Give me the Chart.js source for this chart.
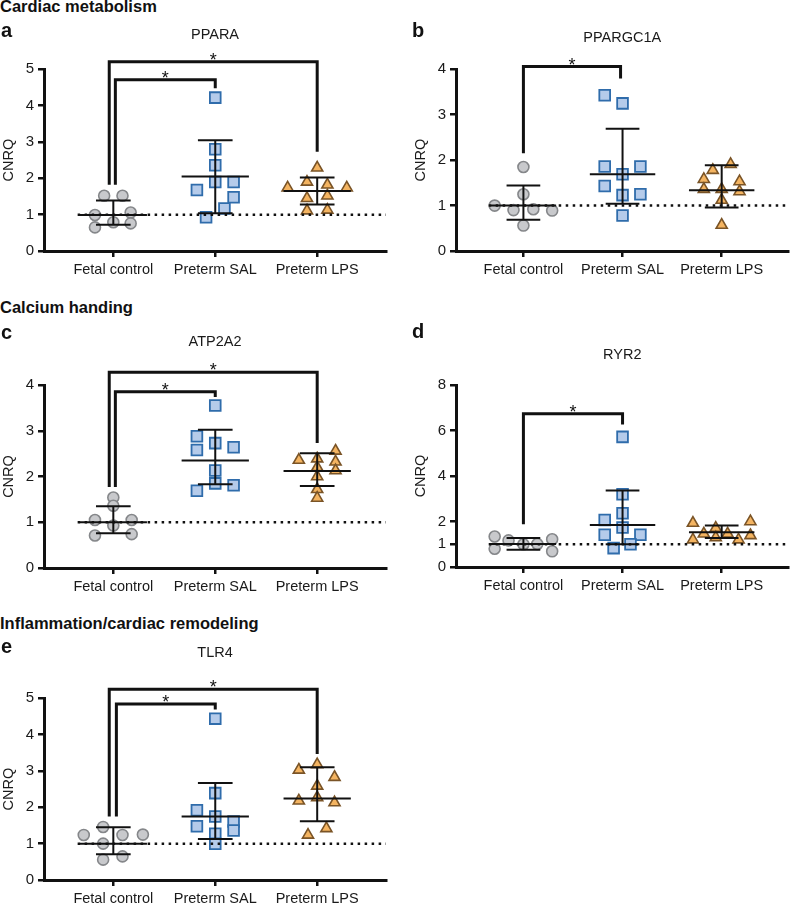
<!DOCTYPE html>
<html>
<head>
<meta charset="utf-8">
<script src="https://cdn.jsdelivr.net/npm/chart.js@4"></script>
<style>
  body { margin: 0; background: #fff; width: 798px; height: 904px; position: relative; overflow: hidden; }
  .panel { position: absolute; }
  .txt { position: absolute; font-family: 'Liberation Sans', Arial, sans-serif; font-weight: bold; line-height: 1; color: #111; white-space: nowrap; z-index: 2; }
  .head { font-size: 16.5px; }
  .lab { font-size: 20px; }
</style>
</head>
<body>
<div class="txt head" style="left:0;top:-2px">Cardiac metabolism</div>
<div class="txt lab" style="left:1px;top:20px">a</div>
<div class="txt lab" style="left:412px;top:20px">b</div>
<div class="txt head" style="left:0;top:299px">Calcium handing</div>
<div class="txt lab" style="left:1px;top:322px">c</div>
<div class="txt lab" style="left:412px;top:321px">d</div>
<div class="txt head" style="left:0;top:615px">Inflammation/cardiac remodeling</div>
<div class="txt lab" style="left:1px;top:636px">e</div>

<div class="panel" style="left:0;top:20px;width:400px;height:270px"><canvas id="pa"></canvas></div>
<div class="panel" style="left:412px;top:23px;width:386px;height:267px"><canvas id="pb"></canvas></div>
<div class="panel" style="left:0;top:327px;width:400px;height:273px"><canvas id="pc"></canvas></div>
<div class="panel" style="left:412px;top:340px;width:386px;height:260px"><canvas id="pd"></canvas></div>
<div class="panel" style="left:0;top:638px;width:400px;height:266px"><canvas id="pe"></canvas></div>

<script>
const groups = ['Fetal control', 'Preterm SAL', 'Preterm LPS'];

// each point: [offset from group centre, CNRQ]
const pparaFetal = [[-0.09, 1.52], [0.09, 1.52], [-0.18, 0.99], [0.17, 1.06], [0, 0.79], [0.17, 0.76], [-0.18, 0.65]];
const pparaSal = [[0, 4.22], [0, 2.80], [0, 2.36], [0, 1.90], [0.18, 1.90], [-0.18, 1.68], [0.18, 1.48], [0.09, 1.17], [-0.09, 0.93]];
const pparaLps = [[0, 2.29], [-0.1, 1.90], [0.1, 1.82], [-0.29, 1.74], [0.29, 1.74], [0.1, 1.52], [-0.1, 1.45], [-0.1, 1.11], [0.1, 1.13]];
const pparaStats = [[0.99, 0.72, 1.39], [2.05, 1.04, 3.05], [1.65, 1.28, 2.02]]; // mean, lower, upper
const pparaSig = [[0.02, 1.82, 1, 4.48, 4.71], [-0.04, 1.82, 2, 2.73, 5.21]]; // x1, y1, x2, y2, top

const pgcFetal = [[0, 1.85], [0, 1.25], [-0.29, 1.0], [-0.1, 0.90], [0.1, 0.92], [0.29, 0.89], [0, 0.56]];
const pgcSal = [[-0.18, 3.43], [0, 3.25], [-0.18, 1.86], [0.18, 1.86], [0, 1.69], [-0.18, 1.43], [0, 1.23], [0.18, 1.25], [0, 0.78]];
const pgcLps = [[0.09, 1.91], [-0.09, 1.78], [-0.18, 1.58], [0.18, 1.53], [-0.18, 1.36], [0, 1.36], [0.18, 1.31], [0, 1.12], [0, 0.57]];
const pgcStats = [[1.0, 0.69, 1.44], [1.69, 1.04, 2.69], [1.34, 0.96, 1.89]];
const pgcSig = [[0, 2.15, 0.98, 3.80, 4.06]];

const atpFetal = [[0, 1.54], [0, 1.36], [-0.18, 1.05], [0.18, 1.05], [0, 0.93], [-0.18, 0.71], [0.18, 0.74]];
const atpSal = [[0, 3.55], [-0.18, 2.88], [0, 2.73], [0.18, 2.64], [-0.18, 2.58], [0, 2.13], [0, 1.85], [0.18, 1.81], [-0.18, 1.69]];
const atpLps = [[0.18, 2.56], [-0.18, 2.36], [0, 2.39], [0.18, 2.32], [0, 2.20], [0.18, 2.13], [0, 2.0], [0, 1.72], [0, 1.53]];
const atpStats = [[1.0, 0.76, 1.35], [2.35, 1.83, 3.02], [2.12, 1.79, 2.51]];
const atpSig = [[0.02, 1.77, 1, 3.74, 3.85], [-0.04, 1.77, 2, 2.73, 4.28]];

const ryrFetal = [[-0.29, 1.34], [-0.15, 1.17], [0, 1.0], [0.14, 1.01], [0.29, 1.22], [-0.29, 0.80], [0.29, 0.69]];
const ryrSal = [[0, 5.72], [0, 3.2], [0, 2.36], [-0.18, 2.07], [0, 1.74], [-0.18, 1.42], [0.18, 1.42], [0.08, 1.0], [-0.09, 0.83]];
const ryrLps = [[-0.29, 1.93], [0.29, 2.0], [-0.06, 1.71], [-0.18, 1.46], [0.06, 1.46], [0.29, 1.39], [-0.06, 1.30], [-0.29, 1.2], [0.17, 1.2]];
const ryrStats = [[1.01, 0.76, 1.27], [1.85, 1.0, 3.36], [1.53, 1.27, 1.82]];
const ryrSig = [[0, 1.88, 1, 6.26, 6.74]];
const ryrTicks = [0, 1, 2, 4, 6, 8];

const tlrFetal = [[-0.1, 1.46], [-0.29, 1.24], [0.09, 1.24], [0.29, 1.25], [-0.1, 1.0], [0.09, 0.65], [-0.1, 0.56]];
const tlrSal = [[0, 4.44], [0, 2.39], [-0.18, 1.92], [0, 1.75], [0.18, 1.61], [-0.18, 1.48], [0.18, 1.36], [0, 1.27], [0, 1.0]];
const tlrLps = [[0, 3.18], [-0.18, 3.03], [0.17, 2.83], [0, 2.59], [0, 2.27], [-0.18, 2.18], [0.17, 2.13], [0.09, 1.42], [-0.09, 1.24]];
const tlrStats = [[1.0, 0.71, 1.45], [1.75, 1.13, 2.67], [2.24, 1.62, 3.10]];
const tlrSig = [[0.03, 1.75, 1, 4.69, 4.84], [-0.04, 1.75, 2, 3.47, 5.25]];

const FONT = "'Liberation Sans', Arial, sans-serif";
Chart.defaults.font.family = FONT;
Chart.defaults.color = '#1a1a1a';

// dotted line at 1, mean +/- SD bars, significance brackets
const markup = {
  id: 'markup',
  afterDatasetsDraw(chart, args, opts) {
    const { ctx, scales: { x, y } } = chart;
    ctx.save();
    ctx.strokeStyle = '#111';
    ctx.lineWidth = 2.5;
    ctx.setLineDash([2.5, 4.5]);
    ctx.beginPath();
    ctx.moveTo(x.getPixelForValue(-0.35), y.getPixelForValue(1));
    ctx.lineTo(x.right, y.getPixelForValue(1));
    ctx.stroke();
    ctx.setLineDash([]);

    ctx.lineWidth = 2;
    opts.stats.forEach(([m, lo, hi], i) => {
      const seg = (x1, y1, x2, y2) => {
        ctx.beginPath();
        ctx.moveTo(x.getPixelForValue(x1), y.getPixelForValue(y1));
        ctx.lineTo(x.getPixelForValue(x2), y.getPixelForValue(y2));
        ctx.stroke();
      };
      seg(i - 0.33, m, i + 0.33, m);
      seg(i - 0.17, lo, i + 0.17, lo);
      seg(i - 0.17, hi, i + 0.17, hi);
      seg(i, lo, i, hi);
    });

    ctx.lineWidth = 3;
    ctx.lineJoin = 'miter';
    ctx.fillStyle = '#111';
    ctx.font = '18px ' + FONT;
    ctx.textAlign = 'center';
    ctx.textBaseline = 'alphabetic';
    opts.sig.forEach(([x1, y1, x2, y2, top]) => {
      const tp = y.getPixelForValue(top);
      ctx.beginPath();
      ctx.moveTo(x.getPixelForValue(x1), y.getPixelForValue(y1));
      ctx.lineTo(x.getPixelForValue(x1), tp);
      ctx.lineTo(x.getPixelForValue(x2), tp);
      ctx.lineTo(x.getPixelForValue(x2), y.getPixelForValue(y2));
      ctx.stroke();
      ctx.fillText('*', x.getPixelForValue((x1 + x2) / 2), tp + 4);
    });
    ctx.restore();
  }
};

function toPoints(arr, g) {
  return arr.map(([dx, v]) => ({ x: g + dx, y: v }));
}

function makePanel(id, cfg) {
  const axisLine = { display: true, width: 3, color: '#111' };
  const tickMarks = { drawOnChartArea: false, drawTicks: true, tickLength: 6, color: '#111', lineWidth: 2.5 };
  new Chart(document.getElementById(id), {
    type: 'scatter',
    data: {
      datasets: [
        { data: toPoints(cfg.fetal, 0), pointStyle: 'circle', pointRadius: 5.5,
          backgroundColor: '#c8c9cc', borderColor: '#85878a', borderWidth: 1.6 },
        { data: toPoints(cfg.sal, 1), pointStyle: 'rect', pointRadius: 7.6,
          backgroundColor: '#b5cbea', borderColor: '#2f6cab', borderWidth: 1.8 },
        { data: toPoints(cfg.lps, 2), pointStyle: 'triangle', pointRadius: 6.4,
          backgroundColor: '#f4b461', borderColor: '#7a5427', borderWidth: 1.6 }
      ]
    },
    options: {
      responsive: true,
      maintainAspectRatio: false,
      animation: false,
      layout: { padding: { top: 0, left: 0, bottom: 0, right: cfg.padRight } },
      plugins: {
        legend: { display: false },
        tooltip: { enabled: false },
        title: {
          display: true, text: cfg.title, fullSize: false,
          font: { size: 14.5, weight: 'normal' }, color: '#1a1a1a',
          padding: { top: 6.3, bottom: cfg.titleGap - 0.3 }
        },
        markup: { stats: cfg.stats, sig: cfg.sig }
      },
      scales: {
        x: {
          type: 'linear', min: -0.68, max: 2.675,
          border: axisLine, grid: tickMarks,
          afterBuildTicks: s => { s.ticks = [0, 1, 2].map(v => ({ value: v })); },
          afterFit: s => { s.height = cfg.xHeight; },
          ticks: { font: { size: 14.5 }, color: '#1a1a1a', padding: 4, maxRotation: 0,
            callback: (v, i) => groups[i] }
        },
        y: {
          min: 0, max: cfg.ymax,
          border: axisLine, grid: tickMarks,
          afterBuildTicks: s => { s.ticks = cfg.yticks.map(v => ({ value: v })); },
          afterFit: s => { s.width = 44; },
          title: { display: true, text: 'CNRQ', font: { size: 14.5 }, color: '#1a1a1a', padding: 0 },
          ticks: { font: { size: 15 }, color: '#1a1a1a', padding: 4 }
        }
      }
    },
    plugins: [markup]
  });
}

makePanel('pa', { title: 'PPARA', fetal: pparaFetal, sal: pparaSal, lps: pparaLps,
  stats: pparaStats, sig: pparaSig, ymax: 5, yticks: [0, 1, 2, 3, 4, 5],
  padRight: 14, titleGap: 25.9, xHeight: 39 });
makePanel('pb', { title: 'PPARGC1A', fetal: pgcFetal, sal: pgcSal, lps: pgcLps,
  stats: pgcStats, sig: pgcSig, ymax: 4, yticks: [0, 1, 2, 3, 4],
  padRight: 0, titleGap: 22.9, xHeight: 39 });
makePanel('pc', { title: 'ATP2A2', fetal: atpFetal, sal: atpSal, lps: atpLps,
  stats: atpStats, sig: atpSig, ymax: 4, yticks: [0, 1, 2, 3, 4],
  padRight: 14, titleGap: 34.6, xHeight: 32 });
makePanel('pd', { title: 'RYR2', fetal: ryrFetal, sal: ryrSal, lps: ryrLps,
  stats: ryrStats, sig: ryrSig, ymax: 8, yticks: ryrTicks,
  padRight: 0, titleGap: 21.6, xHeight: 33 });
makePanel('pe', { title: 'TLR4', fetal: tlrFetal, sal: tlrSal, lps: tlrLps,
  stats: tlrStats, sig: tlrSig, ymax: 5, yticks: [0, 1, 2, 3, 4, 5],
  padRight: 14, titleGap: 36.9, xHeight: 24 });
</script>
</body>
</html>
